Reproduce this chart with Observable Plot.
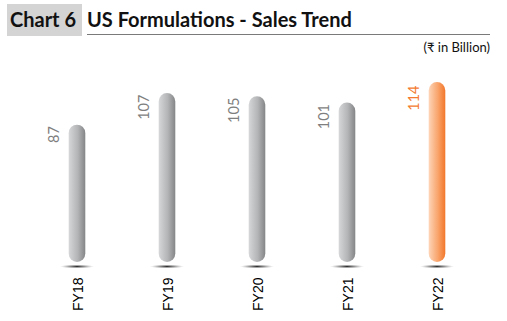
<!DOCTYPE html>
<html>
<head>
<meta charset="utf-8">
<script src="https://cdn.jsdelivr.net/npm/d3@7"></script>
<script src="https://cdn.jsdelivr.net/npm/@observablehq/plot@0.6"></script>
<style>
  html, body { margin: 0; padding: 0; background: #fff; }
  #wrap { width: 507px; height: 321px; position: relative; overflow: hidden; }
  #head { position: relative; width: 507px; height: 56px; font-family: Lato, "Open Sans", sans-serif; }
  #tag { position: absolute; left: 7px; top: 4px; width: 75px; height: 32px; background: #d4d4d4; }
  #tag span { position: absolute; left: 3px; top: 3px; font-weight: 700; font-size: 20px; color: #111; white-space: nowrap; }
  #title { position: absolute; left: 87px; top: 7px; font-weight: 700; font-size: 20px; color: #111; white-space: nowrap; }
  #rule { position: absolute; left: 87px; top: 34px; width: 403px; height: 0; border-top: 1px solid #7a7a7a; }
  #sub { position: absolute; right: 17px; top: 39px; font-size: 13px; color: #111; white-space: nowrap; }
  #chart svg { display: block; }
</style>
</head>
<body>
<div id="wrap">
  <div id="head">
    <div id="tag"><span>Chart 6</span></div>
    <div id="title">US Formulations - Sales Trend</div>
    <div id="rule"></div>
    <div id="sub">(₹ in Billion)</div>
  </div>
  <div id="chart"></div>
</div>
<script>
const years = ["FY18", "FY19", "FY20", "FY21", "FY22"];
const sales = [87, 107, 105, 101, 114];
const highlight = ["FY22"];

const data = years.map((y, i) => ({year: y, value: sales[i], hi: highlight.includes(y)}));
const grayData = data.filter(d => !d.hi);
const hiData = data.filter(d => d.hi);

const chart = Plot.plot({
  width: 507,
  height: 265,
  marginTop: 26,
  marginBottom: 59,
  marginLeft: 31,
  marginRight: 24,
  x: {domain: years, padding: 0, axis: null},
  y: {domain: [0, 114], axis: null},
  marks: [
    Plot.barY(data, {x: "year", y1: 0, y2: 0, insetTop: 2.5, insetBottom: -6.5, insetLeft: 28, insetRight: 28, fill: "url(#shadowGrad)"}),
    Plot.barY(grayData, {x: "year", y: "value", insetLeft: 36.7, insetRight: 36.7, rx: 8.5, fill: "url(#grayGrad)"}),
    Plot.barY(hiData, {x: "year", y: "value", insetLeft: 36.7, insetRight: 36.7, rx: 8.5, fill: "url(#orangeGrad)"}),
    Plot.text(grayData, {x: "year", y: "value", text: d => String(d.value), rotate: -90, textAnchor: "end", dx: -23, dy: 1, fill: "#7f7f7f", fontSize: 14.5, fontFamily: "Lato, 'Open Sans', sans-serif"}),
    Plot.text(hiData, {x: "year", y: "value", text: d => String(d.value), rotate: -90, textAnchor: "end", dx: -23, dy: 3, fill: "#f47b30", fontSize: 14.5, fontFamily: "Lato, 'Open Sans', sans-serif"}),
    Plot.text(data, {x: "year", y: () => 0, text: "year", rotate: -90, textAnchor: "end", dx: 1, dy: 15, fill: "#000", fontSize: 14, fontFamily: "'Liberation Sans', Arial, sans-serif"})
  ]
});

const defs = d3.select(chart).insert("defs", ":first-child");
const g1 = defs.append("linearGradient").attr("id", "grayGrad").attr("x1", 0).attr("x2", 1).attr("y1", 0).attr("y2", 0);
g1.append("stop").attr("offset", "0%").attr("stop-color", "#d6d7d9");
g1.append("stop").attr("offset", "55%").attr("stop-color", "#b3b4b6");
g1.append("stop").attr("offset", "100%").attr("stop-color", "#848587");
const g2 = defs.append("linearGradient").attr("id", "orangeGrad").attr("x1", 0).attr("x2", 1).attr("y1", 0).attr("y2", 0);
g2.append("stop").attr("offset", "0%").attr("stop-color", "#fdd5b8");
g2.append("stop").attr("offset", "55%").attr("stop-color", "#f9a46c");
g2.append("stop").attr("offset", "100%").attr("stop-color", "#f2772a");
const g3 = defs.append("radialGradient").attr("id", "shadowGrad").attr("cx", 0.5).attr("cy", 0.5).attr("r", 0.5);
g3.append("stop").attr("offset", "0%").attr("stop-color", "#222").attr("stop-opacity", 0.95);
g3.append("stop").attr("offset", "45%").attr("stop-color", "#555").attr("stop-opacity", 0.6);
g3.append("stop").attr("offset", "100%").attr("stop-color", "#999").attr("stop-opacity", 0);

document.getElementById("chart").appendChild(chart);
</script>
</body>
</html>
